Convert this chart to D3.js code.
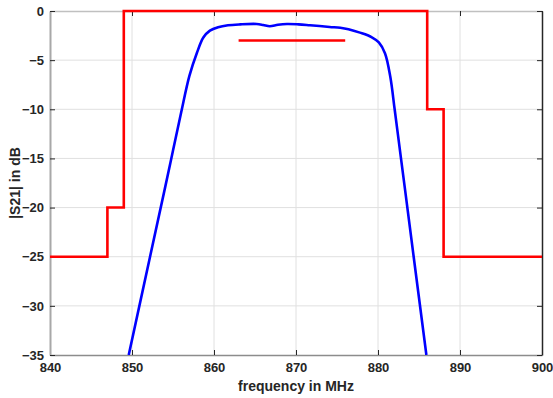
<!DOCTYPE html>
<html><head><meta charset="utf-8">
<script src="https://cdn.jsdelivr.net/npm/d3@7"></script>
<style>
html,body{margin:0;padding:0;background:#fff;}
svg{display:block;font-family:"Liberation Sans",Arial,sans-serif;}
</style></head>
<body>
<script>
const xTicks = [840, 850, 860, 870, 880, 890, 900];
const yTicks = [0, -5, -10, -15, -20, -25, -30, -35];
const xLabel = "frequency in MHz";
const yLabel = "|S21| in dB";

// Mask (red step line)
const maskFreq = [840, 847, 847, 849, 849, 886, 886, 888, 888, 900];
const maskDb   = [-25, -25, -20, -20, 0, 0, -10, -10, -25, -25];
// Passband ripple marker
const markFreq = [863, 876];
const markDb = [-3, -3];

// Measured S21 (blue)
const s21Freq = [849.6, 852.2, 854.0, 855.0, 856.0, 857.0, 857.9, 858.7, 859.5, 860.5, 861.7, 863.2, 865.2, 866.0, 866.8, 867.8, 868.9, 870.3, 871.7, 874.1, 875.4, 876.4, 877.8, 879.2, 880.1, 880.85, 881.5, 882.03, 882.65, 883.27, 884.35, 885.9];
const s21Db   = [-35, -25, -18.1, -14.2, -10.3, -6.6, -4.3, -2.7, -2.0, -1.65, -1.45, -1.36, -1.32, -1.42, -1.55, -1.4, -1.32, -1.36, -1.45, -1.62, -1.7, -1.85, -2.2, -2.65, -3.2, -4.3, -6.7, -10.0, -14.0, -18.0, -25, -35];

const W = 553, H = 398;
const L = 50, R = 542, T = 11, B = 355;
const x = d3.scaleLinear().domain([840, 900]).range([L, R]);
const y = d3.scaleLinear().domain([-35, 0]).range([B, T]);

const svg = d3.select("body").append("svg").attr("width", W).attr("height", H);

// grid
const g = svg.append("g");
g.selectAll(".gx").data(xTicks.slice(1, -1)).enter().append("line")
  .attr("x1", d => x(d)).attr("x2", d => x(d)).attr("y1", T).attr("y2", B)
  .attr("stroke", "#e0e0e0").attr("stroke-width", 1);
g.selectAll(".gy").data(yTicks.slice(1, -1)).enter().append("line")
  .attr("x1", L).attr("x2", R).attr("y1", d => y(d)).attr("y2", d => y(d))
  .attr("stroke", "#e0e0e0").attr("stroke-width", 1);

// axes
const tickColor = "#262626";
const xb = svg.append("g").attr("transform", `translate(0,${B})`)
  .call(d3.axisBottom(x).tickValues(xTicks).tickSizeInner(-5).tickSizeOuter(0).tickPadding(8).tickFormat(d3.format("d")));
const xt = svg.append("g").attr("transform", `translate(0,${T})`)
  .call(d3.axisTop(x).tickValues(xTicks).tickSizeInner(-5).tickSizeOuter(0).tickFormat(""));
const yl = svg.append("g").attr("transform", `translate(${L},0)`)
  .call(d3.axisLeft(y).tickValues(yTicks).tickSizeInner(-5).tickSizeOuter(0).tickPadding(6).tickFormat(d3.format("d")));
const yr = svg.append("g").attr("transform", `translate(${R},0)`)
  .call(d3.axisRight(y).tickValues(yTicks).tickSizeInner(-5).tickSizeOuter(0).tickFormat(""));
[xb, xt, yl, yr].forEach(a => {
  a.selectAll(".tick line").attr("stroke", tickColor).attr("stroke-width", 1);
  a.selectAll("text").attr("fill", tickColor).attr("font-size", 13).attr("font-weight", "bold")
    .attr("font-family", "Liberation Sans, Arial, sans-serif");
});
xb.select(".domain").attr("stroke", "#8c8c8c").attr("stroke-width", 1.5);
xt.select(".domain").attr("stroke", "#c0c0c0").attr("stroke-width", 1.5);
yl.select(".domain").attr("stroke", "#a8a8a8").attr("stroke-width", 2);
yr.select(".domain").attr("stroke", "#262626").attr("stroke-width", 1.5);

// clip
svg.append("clipPath").attr("id", "clip").append("rect")
  .attr("x", L).attr("y", T - 2).attr("width", R - L).attr("height", B - T + 2);

const plot = svg.append("g").attr("clip-path", "url(#clip)");
const curveLine = d3.line().x(d => x(d[0])).y(d => y(d[1])).curve(d3.curveCatmullRom.alpha(0.5));
plot.append("path").datum(s21Freq.map((f, i) => [f, s21Db[i]]))
  .attr("d", curveLine).attr("fill", "none")
  .attr("stroke", "#0000ff").attr("stroke-width", 2.6).attr("stroke-linejoin", "round");

const lineLin = d3.line().x(d => x(d[0])).y(d => y(d[1]));
svg.append("path").datum(maskFreq.map((f, i) => [f, maskDb[i]]))
  .attr("d", lineLin).attr("fill", "none")
  .attr("stroke", "#ff0000").attr("stroke-width", 2.6);
svg.append("path").datum(markFreq.map((f, i) => [f, markDb[i]]))
  .attr("d", lineLin).attr("fill", "none")
  .attr("stroke", "#ff0000").attr("stroke-width", 2.4);

// labels
svg.append("text").attr("x", (L + R) / 2).attr("y", 391).attr("text-anchor", "middle")
  .attr("font-size", 14).attr("font-weight", "bold").attr("fill", tickColor).text(xLabel);
svg.append("text").attr("transform", `translate(20,${(T + B) / 2}) rotate(-90)`)
  .attr("text-anchor", "middle").attr("font-size", 14).attr("font-weight", "bold")
  .attr("fill", tickColor).text(yLabel);
</script>
</body></html>
